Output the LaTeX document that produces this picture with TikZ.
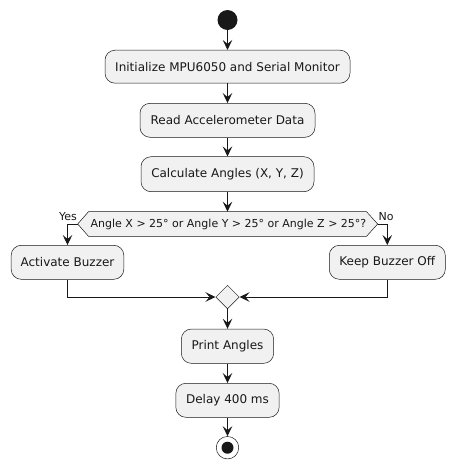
\documentclass[tikz,border=0pt]{standalone}
\usepackage{fontspec}
\setmainfont{DejaVu Sans}
\usetikzlibrary{arrows.meta,shapes.geometric}
\definecolor{boxfill}{HTML}{F1F1F1}
\definecolor{ink}{HTML}{181818}
\begin{document}
\begin{tikzpicture}[x=1pt,y=-1pt,
  act/.style={draw=ink, fill=boxfill, line width=0.5pt, rounded corners=10pt, inner sep=0pt, font=\fontsize{12}{14}\selectfont, text=ink},
  flow/.style={draw=ink, line width=1pt, -{Stealth[length=10pt,width=9.5pt,inset=4pt]}},
  lbl/.style={font=\fontsize{11}{13}\selectfont, text=ink, inner sep=0pt},
]
\useasboundingbox (0,0) rectangle (455,469);
\node[circle, fill=ink, minimum size=20pt, inner sep=0pt] (start) at (227.5,20) {};
\node[act, minimum width=245pt, minimum height=33pt] (init) at (227.5,66.7) {Initialize MPU6050 and Serial Monitor};
\node[act, minimum width=175pt, minimum height=34pt] (read) at (227.5,120.3) {Read Accelerometer Data};
\node[act, minimum width=173pt, minimum height=35pt] (calc) at (227.5,174.2) {Calculate Angles (X, Y, Z)};
% decision
\coordinate (decL) at (77.7,224);
\coordinate (decR) at (377.7,224);
\coordinate (decT) at (227.5,211.7);
\draw[fill=boxfill, draw=ink, line width=0.5pt] (decL) -- (88.5,211.7) -- (366.5,211.7) -- (decR) -- (366.5,236.3) -- (88.5,236.3) -- cycle;
\node[font=\fontsize{11}{13}\selectfont, text=ink, inner sep=0pt] (dec) at (228.5,224) {Angle X > 25° or Angle Y > 25° or Angle Z > 25°?};
\node[lbl, anchor=base east] (yes) at (77,220.5) {Yes};
\node[lbl, anchor=base west] (no) at (378.5,220.5) {No};
\node[act, minimum width=112.6pt, minimum height=34pt] (buzz) at (67.5,262.3) {Activate Buzzer};
\node[act, minimum width=116pt, minimum height=34pt] (keep) at (387.3,262.3) {Keep Buzzer Off};
\node[diamond, draw=ink, fill=boxfill, line width=0.5pt, minimum size=23.5pt, inner sep=0pt] (merge) at (227.5,297) {};
\node[act, minimum width=92.3pt, minimum height=34.3pt] (print) at (227.5,346.2) {Print Angles};
\node[act, minimum width=103.3pt, minimum height=34pt] (delay) at (227.5,400.3) {Delay 400 ms};
\node[circle, draw=ink, fill=white, line width=0.5pt, minimum size=22.5pt, inner sep=0pt] (stop) at (227.5,447.7) {};
\node[circle, fill=ink, minimum size=12pt, inner sep=0pt] (stopdot) at (stop) {};
% connectors
\draw[flow] (start) -- (init);
\draw[flow] (init) -- (read);
\draw[flow] (read) -- (calc);
\draw[flow] (calc) -- (decT);
\draw[flow] (decL) -| (buzz.north);
\draw[flow] (decR) -| (keep.north);
\draw[flow] (buzz.south) |- (merge.west);
\draw[flow] (keep.south) |- (merge.east);
\draw[flow] (merge) -- (print);
\draw[flow] (print) -- (delay);
\draw[flow] (delay) -- (stop);
\end{tikzpicture}
\end{document}
